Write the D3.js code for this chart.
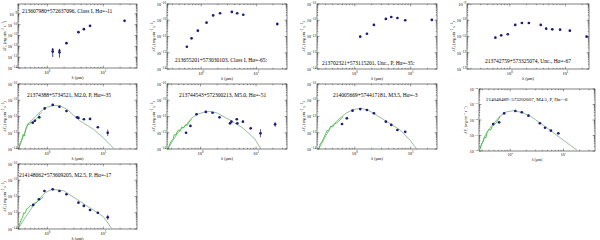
<!DOCTYPE html>
<html>
<head>
<meta charset="utf-8">
<script src="https://cdnjs.cloudflare.com/ajax/libs/d3/7.8.5/d3.min.js"></script>
<style>
  body { margin: 0; background: #fff; }
  svg { display: block; font-family: "Liberation Serif", "DejaVu Serif", serif; }
</style>
</head>
<body>
<svg id="chart" width="600" height="240"></svg>
<script>
// ---- data (wavelength in micron, flux as log10 of lambda*F_lambda) ----
const panelLabels = [
  "213607980+572637096, Class I, H\u03b1=-11",
  "213655201+573030103, Class I, H\u03b1=-65:",
  "213702321+573115201, Unc., P, H\u03b1=-35:",
  "213742759+573325074, Unc., H\u03b1=-67",
  "21374388+5734521, M2.0, P, H\u03b1=-35",
  "213744543+572300213, M5.0, H\u03b1=-51",
  "214005669+574417181, M3.5, H\u03b1=-3",
  "214048489+573202607, M4.5, P, H\u03b1=-6",
  "214148062+573609205, M2.5, P, H\u03b1=-17"
];

const p1Lam = [1.25, 1.65, 2.2, 3.6, 4.5, 5.8, 24];
const p1LogF = [-12.49, -12.55, -11.71, -10.7, -10.42, -10.11, -9.65];
const p1Limits = [true, true, false, false, false, false, false];

const p2Lam = [0.55, 0.67, 0.87, 1.25, 1.65, 2.2, 3.6, 4.5, 5.8, 24];
const p2LogF = [-12.63, -12.11, -11.64, -11.15, -10.70, -10.57, -10.49, -10.57, -10.66, -11.23];
const p2Err = [0, 0, 0, 0, 0, 0, 0, 0, 0, 0.1];

const p3Lam = [1.25, 1.65, 2.2, 3.6, 4.5, 5.8, 8.0, 24];
const p3LogF = [-12.01, -11.83, -11.29, -10.92, -10.8, -10.86, -11.0, -10.98];

const p4Lam = [0.55, 0.7, 0.92, 1.25, 1.65, 2.2, 3.6, 4.5, 5.8, 8.0, 12, 24];
const p4LogF = [-11.07, -10.93, -10.86, -10.29, -10.17, -10.17, -10.29, -10.52, -10.56, -10.58, -10.64, -11.01];

const p5Lam = [0.55, 0.6, 0.72, 0.9, 1.25, 1.65, 2.2, 3.4, 3.6, 4.5, 5.8, 8.0, 12];
const p5LogF = [-12.38, -12.26, -12.05, -11.5, -11.29, -11.4, -11.66, -12.05, -12.09, -12.17, -12.15, -12.66, -13.0];
const p5Err = [0, 0, 0, 0, 0, 0, 0, 0, 0, 0, 0, 0, 0.2];
const p5SpecLam = [0.31, 0.33, 0.35, 0.37, 0.39, 0.41, 0.43, 0.45, 0.48, 0.51, 0.55, 0.59, 0.63, 0.68, 0.73, 0.78];
const p5SpecLogF = [-14.0, -13.6, -13.45, -13.1, -13.2, -12.8, -12.6, -12.45, -12.5, -12.35, -12.4, -12.25, -12.15, -12.05, -11.85, -11.75];
const p5ModLam = [0.31, 0.38, 0.46, 0.57, 0.75, 0.99, 1.3, 1.71, 2.25, 3.88, 6.7, 10.1, 15.3];
const p5ModLogF = [-13.96, -13.14, -12.42, -12.11, -11.70, -11.43, -11.31, -11.35, -11.56, -12.28, -12.79, -13.32, -13.96];

const p6Lam = [0.55, 0.66, 0.85, 1.25, 1.65, 2.2, 3.4, 3.6, 4.5, 4.6, 5.8, 8.0, 12, 22];
const p6LogF = [-13.0, -12.58, -11.86, -11.72, -11.77, -12.05, -12.42, -12.32, -12.17, -12.42, -12.32, -12.73, -13.03, -12.48];
const p6Err = [0, 0, 0, 0, 0, 0, 0, 0, 0, 0, 0, 0, 0.25, 0.15];
const p6SpecLam = [0.26, 0.28, 0.30, 0.32, 0.34, 0.36, 0.38, 0.40, 0.43, 0.46, 0.50, 0.54, 0.58, 0.63, 0.69];
const p6SpecLogF = [-14.0, -13.7, -13.5, -13.4, -13.1, -13.15, -12.95, -12.83, -12.9, -12.65, -12.7, -12.5, -12.55, -12.3, -12.17];
const p6ModLam = [0.26, 0.35, 0.43, 0.55, 0.70, 0.9, 1.2, 1.48, 1.97, 3.4, 5.8, 9.5, 12.2];
const p6ModLogF = [-14.0, -13.26, -12.83, -12.52, -12.09, -11.85, -11.72, -11.69, -11.78, -12.22, -12.71, -13.38, -14.0];

const p7Lam = [0.59, 0.72, 0.91, 1.25, 1.65, 2.2, 3.6, 4.5, 5.8, 8.0];
const p7LogF = [-12.46, -12.11, -11.64, -11.54, -11.6, -11.8, -12.32, -12.52, -12.83, -12.94];
const p7SpecLam = [0.225, 0.24, 0.26, 0.28, 0.30, 0.32, 0.34, 0.37, 0.40, 0.43, 0.47, 0.51, 0.56, 0.62];
const p7SpecLogF = [-14.0, -13.7, -13.55, -13.3, -13.05, -12.85, -12.9, -12.6, -12.65, -12.45, -12.4, -12.3, -12.15, -12.0];
const p7ModLam = [0.225, 0.36, 0.5, 0.7, 0.94, 1.25, 1.73, 3.2, 6.5, 9.7, 12.8];
const p7ModLogF = [-14.0, -12.7, -12.2, -11.79, -11.57, -11.5, -11.6, -12.17, -12.83, -13.45, -14.0];

const p8Lam = [0.48, 0.62, 0.77, 1.25, 1.65, 2.2, 3.6, 4.5, 5.8, 8.0];
const p8LogF = [-12.26, -12.15, -11.57, -11.42, -11.5, -11.72, -12.21, -12.5, -12.69, -12.86];
const p8SpecLam = [0.27, 0.29, 0.31, 0.33, 0.35, 0.37, 0.40, 0.43, 0.46, 0.50, 0.54, 0.59, 0.65];
const p8SpecLogF = [-13.9, -13.55, -13.4, -13.1, -13.15, -12.8, -12.6, -12.65, -12.4, -12.3, -12.2, -12.0, -11.75];
const p8ModLam = [0.27, 0.34, 0.46, 0.65, 0.84, 1.15, 1.6, 2.37, 5.6, 9.9, 17.8];
const p8ModLogF = [-13.9, -12.97, -12.32, -11.74, -11.48, -11.4, -11.5, -11.74, -12.65, -13.3, -13.94];

const p9Lam = [0.56, 0.71, 0.89, 1.25, 1.65, 2.2, 3.6, 4.5, 5.8, 8.0, 12];
const p9LogF = [-12.52, -12.17, -11.66, -11.56, -11.66, -11.86, -12.38, -12.58, -12.83, -13.0, -13.28];
const p9Err = [0, 0, 0, 0, 0, 0, 0, 0, 0, 0, 0.15];
const p9SpecLam = [0.305, 0.32, 0.34, 0.36, 0.38, 0.40, 0.43, 0.46, 0.50, 0.54, 0.59, 0.65, 0.72, 0.8, 0.85];
const p9SpecLogF = [-13.96, -13.7, -13.45, -13.3, -13.0, -13.05, -12.75, -12.7, -12.55, -12.6, -12.4, -12.35, -12.2, -12.1, -12.02];
const p9ModLam = [0.305, 0.4, 0.54, 0.69, 0.91, 1.2, 1.94, 3.36, 6.6, 10.0, 14.1];
const p9ModLogF = [-13.96, -13.32, -12.65, -12.22, -11.78, -11.56, -11.64, -12.17, -12.83, -13.24, -13.96];

// ---- layout ----
const panels = [
  { lam: p1Lam, logF: p1LogF, limits: p1Limits, box: [18, 4, 119, 64], xDom: [0.3, 40], yDom: [-14, -8.1], yTicks: [-14, -13, -12, -11, -10, -9], txt: [22, 13] },
  { lam: p2Lam, logF: p2LogF, err: p2Err, box: [167, 4, 120, 65], xDom: [0.24, 36], yDom: [-14, -10], txt: [175, 62] },
  { lam: p3Lam, logF: p3LogF, box: [317, 4, 120, 65], xDom: [0.21, 29.7], yDom: [-14, -10], txt: [322, 65] },
  { lam: p4Lam, logF: p4LogF, box: [467, 4, 122, 65], xDom: [0.17, 26.5], yDom: [-13, -9], txt: [485, 63] },
  { lam: p5Lam, logF: p5LogF, err: p5Err, spec: [p5SpecLam, p5SpecLogF], model: [p5ModLam, p5ModLogF], box: [18, 84, 119, 65], xDom: [0.3, 40], yDom: [-14, -10], txt: [27, 97] },
  { lam: p6Lam, logF: p6LogF, err: p6Err, spec: [p6SpecLam, p6SpecLogF], model: [p6ModLam, p6ModLogF], box: [167, 84, 120, 65], xDom: [0.25, 36], yDom: [-14, -10], txt: [179, 97] },
  { lam: p7Lam, logF: p7LogF, spec: [p7SpecLam, p7SpecLogF], model: [p7ModLam, p7ModLogF], box: [317, 84, 120, 65], xDom: [0.21, 29.7], yDom: [-14, -10], txt: [333, 97] },
  { lam: p8Lam, logF: p8LogF, spec: [p8SpecLam, p8SpecLogF], model: [p8ModLam, p8ModLogF], box: [479, 89, 116, 62], xDom: [0.26, 39], yDom: [-14, -10], txt: [486, 101], small: true },
  { lam: p9Lam, logF: p9LogF, err: p9Err, spec: [p9SpecLam, p9SpecLogF], model: [p9ModLam, p9ModLogF], box: [18, 164, 119, 65], xDom: [0.3, 40], yDom: [-14, -10], txt: [19, 177] }
];

const svg = d3.select('#chart');
const navy = '#1c1c78';

function powLabel(g, exp, fs) {
  const t = g.append('text');
  t.append('tspan').text('10');
  t.append('tspan').attr('dy', -fs * 0.45).attr('font-size', fs * 0.72).text(exp);
  return t;
}

panels.forEach((p, i) => {
  const [x0, y0, w, h] = p.box;
  const fs = p.small ? 3.9 : 4.4;
  const g = svg.append('g').attr('transform', `translate(${x0},${y0})`);

  const x = d3.scaleLog().domain(p.xDom).range([0, w]);
  const y = d3.scaleLinear().domain(p.yDom).range([h, 0]);

  // minor ticks on x (log)
  const xMinor = [];
  for (let e = -1; e <= 1; e++) for (let k = 2; k <= 9; k++) {
    const v = k * Math.pow(10, e);
    if (v > p.xDom[0] && v < p.xDom[1]) xMinor.push(v);
  }
  const xMajor = [0.1, 1, 10].filter(v => v > p.xDom[0] && v < p.xDom[1]);
  const yMajor = p.yTicks || d3.range(Math.ceil(p.yDom[0]), Math.floor(p.yDom[1]) + 1);
  const yMinor = [];
  for (let e = Math.floor(p.yDom[0]); e < p.yDom[1]; e++) for (let k = 2; k <= 9; k++) {
    const v = e + Math.log10(k);
    if (v > p.yDom[0] && v < p.yDom[1]) yMinor.push(v);
  }

  const tk = g.append('g').attr('stroke', '#000').attr('stroke-width', 0.4);
  xMinor.forEach(v => {
    tk.append('line').attr('x1', x(v)).attr('x2', x(v)).attr('y1', h).attr('y2', h - 1.2);
    tk.append('line').attr('x1', x(v)).attr('x2', x(v)).attr('y1', 0).attr('y2', 1.2);
  });
  xMajor.forEach(v => {
    tk.append('line').attr('x1', x(v)).attr('x2', x(v)).attr('y1', h).attr('y2', h - 2.4);
    tk.append('line').attr('x1', x(v)).attr('x2', x(v)).attr('y1', 0).attr('y2', 2.4);
  });
  yMinor.forEach(v => {
    tk.append('line').attr('y1', y(v)).attr('y2', y(v)).attr('x1', 0).attr('x2', 1.2);
    tk.append('line').attr('y1', y(v)).attr('y2', y(v)).attr('x1', w).attr('x2', w - 1.2);
  });
  yMajor.forEach(v => {
    tk.append('line').attr('y1', y(v)).attr('y2', y(v)).attr('x1', 0).attr('x2', 2.4);
    tk.append('line').attr('y1', y(v)).attr('y2', y(v)).attr('x1', w).attr('x2', w - 2.4);
  });

  // tick labels
  const lab = g.append('g').attr('font-size', fs).attr('fill', '#000');
  yMajor.forEach(v => {
    powLabel(lab, String(v).replace('-', '\u2212'), fs)
      .attr('x', -1).attr('y', y(v) + fs * 0.45).attr('text-anchor', 'end');
  });
  xMajor.forEach(v => {
    powLabel(lab, String(Math.round(Math.log10(v))), fs)
      .attr('x', x(v)).attr('y', h + fs + 1.2).attr('text-anchor', 'middle');
  });

  // axis titles
  g.append('text').attr('x', w / 2).attr('y', h + fs * 2 + 2.6).attr('text-anchor', 'middle')
    .attr('font-size', fs).text('\u03bb (\u03bcm)');
  const yt = g.append('text')
    .attr('transform', `translate(${-12},${h / 2}) rotate(-90)`)
    .attr('text-anchor', 'middle').attr('font-size', fs * 0.95);
  yt.append('tspan').text('\u03bbF');
  yt.append('tspan').attr('font-size', fs * 0.7).attr('dy', fs * 0.25).text('\u03bb');
  yt.append('tspan').attr('dy', -fs * 0.25).text(' (erg cm');
  yt.append('tspan').attr('font-size', fs * 0.7).attr('dy', -fs * 0.4).text('\u22122');
  yt.append('tspan').attr('dy', fs * 0.4).text(' s');
  yt.append('tspan').attr('font-size', fs * 0.7).attr('dy', -fs * 0.4).text('\u22121');
  yt.append('tspan').attr('dy', fs * 0.4).text(')');

  // clip to frame
  const clipId = 'clip' + i;
  g.append('clipPath').attr('id', clipId).append('rect').attr('width', w).attr('height', h);
  const plot = g.append('g').attr('clip-path', `url(#${clipId})`);

  const line = d3.line().x(d => x(d[0])).y(d => y(d[1]));
  if (p.model) {
    plot.append('path').datum(d3.zip(p.model[0], p.model[1]))
      .attr('fill', 'none').attr('stroke', '#6f9f7a').attr('stroke-width', 0.7).attr('d', line);
  }
  if (p.spec) {
    plot.append('path').datum(d3.zip(p.spec[0], p.spec[1]))
      .attr('fill', 'none').attr('stroke', '#3fbf3f').attr('stroke-width', 0.9).attr('d', line);
  }

  // error bars / limits
  p.lam.forEach((l, j) => {
    const e = p.err ? p.err[j] : 0;
    if (e > 0) {
      plot.append('line').attr('x1', x(l)).attr('x2', x(l))
        .attr('y1', y(p.logF[j] - e)).attr('y2', y(p.logF[j] + e))
        .attr('stroke', navy).attr('stroke-width', 0.7);
    }
    if (p.limits && p.limits[j]) {
      const top = y(p.logF[j] + 0.3), bot = y(p.logF[j] - 0.5);
      plot.append('line').attr('x1', x(l)).attr('x2', x(l)).attr('y1', top).attr('y2', bot)
        .attr('stroke', navy).attr('stroke-width', 0.8);
      plot.append('path')
        .attr('d', `M${x(l) - 1.3},${top + 2} L${x(l)},${top - 0.5} L${x(l) + 1.3},${top + 2} Z`)
        .attr('fill', navy);
    }
  });

  plot.selectAll('circle.pt').data(d3.zip(p.lam, p.logF)).enter()
    .append('circle').attr('class', 'pt')
    .attr('cx', d => x(d[0])).attr('cy', d => y(d[1])).attr('r', 1.35).attr('fill', navy);

  g.append('rect').attr('width', w).attr('height', h)
    .attr('fill', 'none').attr('stroke', '#000').attr('stroke-width', 0.5);

  svg.append('text').attr('x', p.txt[0]).attr('y', p.txt[1])
    .attr('font-size', p.small ? 5.0 : 5.5).attr('fill', '#000').text(panelLabels[i]);
});
</script>
</body>
</html>
